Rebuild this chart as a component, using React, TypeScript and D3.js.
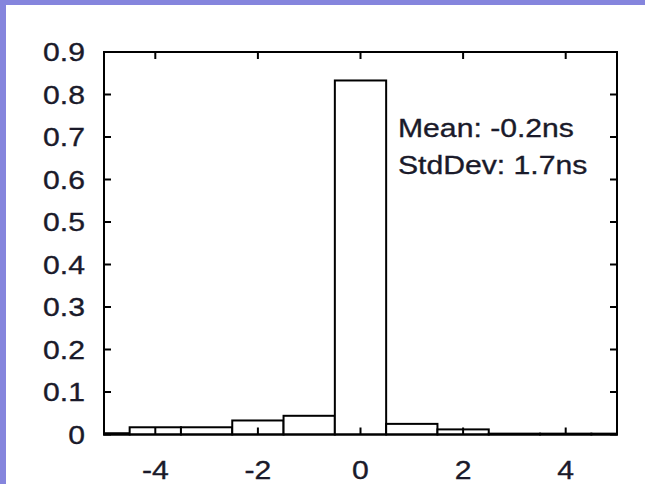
import React, {useRef, useEffect} from 'react'
import * as d3 from 'd3'

// histogram bins (centre of each 1ns bin) and fraction of samples
const binCenters = [-5, -4, -3, -2, -1, 0, 1, 2, 3, 4, 5]
const binValues = [0.003, 0.017, 0.017, 0.033, 0.044, 0.833, 0.025, 0.012, 0.002, 0.002, 0.002]

const xTicks = [-4, -2, 0, 2, 4]
const yTicks = [0, 0.1, 0.2, 0.3, 0.4, 0.5, 0.6, 0.7, 0.8, 0.9]
const statLines = ['Mean: -0.2ns', 'StdDev: 1.7ns']

const App = () => {
	const ref = useRef(null)

	const layout = {"width": 645, "height": 484, "left": 104, "right": 617, "top": 52, "bottom": 434.5}
	const font = "'Liberation Sans', Arial, Helvetica, sans-serif"
	const stretch = 1.16
	const textColor = '#1a1a2a'

	useEffect(() => {
		let svg = d3.select(ref.current)
		svg.selectAll('*').remove()

		var xScale = d3.scaleLinear()
			.domain([-5, 5])
			.range([layout.left, layout.right])

		var yScale = d3.scaleLinear()
			.domain([0, 0.9])
			.range([layout.bottom, layout.top])

		// purple page border (top and left only)
		svg.append('rect').attr('x', 0).attr('y', 0).attr('width', layout.width).attr('height', layout.height).attr('fill', 'white')
		svg.append('rect').attr('x', 0).attr('y', 0).attr('width', layout.width).attr('height', 5).attr('fill', '#8585dd')
		svg.append('rect').attr('x', 0).attr('y', 0).attr('width', 6).attr('height', layout.height).attr('fill', '#8585dd')

		let bins = binCenters.map((c, i) => ({
			x0: Math.max(-5, c - 0.5),
			x1: Math.min(5, c + 0.5),
			v: binValues[i]
		}))

		svg.append('g').selectAll('.bar')
			.data(bins)
			.join('rect')
			.attr('class', 'bar')
			.attr('x', d => xScale(d.x0))
			.attr('y', d => yScale(d.v))
			.attr('width', d => xScale(d.x1) - xScale(d.x0))
			.attr('height', d => yScale(0) - yScale(d.v))
			.attr('fill', 'white')
			.attr('stroke', 'black')
			.attr('stroke-width', 2)

		// ticks on all four sides, pointing inward
		let tickLen = 7
		let ticks = svg.append('g').attr('stroke', 'black').attr('stroke-width', 2)
		ticks.selectAll('.xt-bottom').data(xTicks).join('line')
			.attr('x1', d => xScale(d)).attr('x2', d => xScale(d))
			.attr('y1', layout.bottom).attr('y2', layout.bottom - tickLen)
		ticks.selectAll('.xt-top').data(xTicks).join('line').attr('class', 'xt-top')
			.attr('x1', d => xScale(d)).attr('x2', d => xScale(d))
			.attr('y1', layout.top).attr('y2', layout.top + tickLen)
		ticks.selectAll('.yt-left').data(yTicks).join('line').attr('class', 'yt-left')
			.attr('x1', layout.left).attr('x2', layout.left + tickLen)
			.attr('y1', d => yScale(d)).attr('y2', d => yScale(d))
		ticks.selectAll('.yt-right').data(yTicks).join('line').attr('class', 'yt-right')
			.attr('x1', layout.right).attr('x2', layout.right - tickLen)
			.attr('y1', d => yScale(d)).attr('y2', d => yScale(d))

		// frame
		svg.append('rect')
			.attr('x', layout.left).attr('y', layout.top)
			.attr('width', layout.right - layout.left)
			.attr('height', layout.bottom - layout.top)
			.attr('fill', 'none').attr('stroke', 'black').attr('stroke-width', 2)

		// all text is a bit wider than the font, as in the original upscaled plot
		function styleText(sel) {
			sel.attr('font-family', font).attr('font-size', 26)
				.attr('fill', textColor).attr('stroke', textColor).attr('stroke-width', 0.35)
		}

		svg.append('g').selectAll('text').data(yTicks).join('text')
			.attr('transform', d => `translate(85, ${yScale(d) + 9}) scale(${stretch}, 1)`)
			.attr('text-anchor', 'end')
			.call(styleText)
			.text(d => d3.format('~g')(d))

		svg.append('g').selectAll('text').data(xTicks).join('text')
			.attr('transform', d => `translate(${xScale(d)}, 479) scale(${stretch}, 1)`)
			.attr('text-anchor', 'middle')
			.call(styleText)
			.text(d => d)

		svg.append('g').selectAll('text').data(statLines).join('text')
			.attr('transform', (d, i) => `translate(398, ${137 + i * 37}) scale(${stretch}, 1)`)
			.call(styleText)
			.text(d => d)

	}, [])

	return (
		<svg width={layout.width} height={layout.height} ref={ref}
			style={{"position": "absolute", "left": 0, "top": 0, "display": "block"}} />
	)
}

export default App
